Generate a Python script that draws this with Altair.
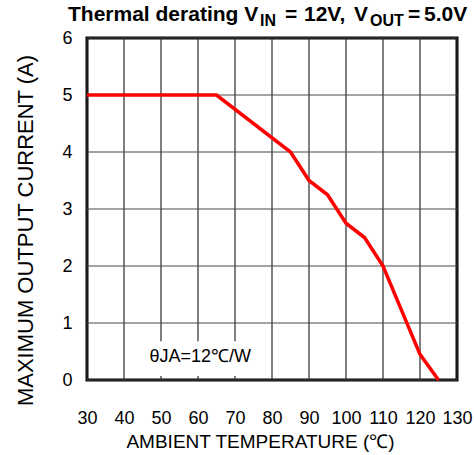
import altair as alt
import pandas as pd

# Derating curve: ambient temperature (°C) vs. maximum output current (A)
temps = [30, 65, 85, 90, 95, 100, 105, 110, 120, 125]
currents = [5.0, 5.0, 4.0, 3.5, 3.25, 2.75, 2.5, 2.0, 0.45, 0.0]

x_ticks = [30, 40, 50, 60, 70, 80, 90, 100, 110, 120, 130]
y_ticks = [0, 1, 2, 3, 4, 5, 6]
x_range = [30, 130]
y_range = [0, 6]

# Vertical grid segments (the ones behind the note are interrupted)
vgrid_x = [30, 40, 50, 50, 60, 60, 70, 70, 80, 90, 100, 110, 120, 130]
vgrid_lo = [0, 0, 0, 0.68, 0, 0.68, 0, 0.68, 0, 0, 0, 0, 0, 0]
vgrid_hi = [6, 6, 0.07, 6, 0.07, 6, 0.07, 6, 6, 6, 6, 6, 6, 6]

note_text = "θJA=12℃/W"
note_pos = (60.6, 0.40)

# Title pieces: (text, x offset, y offset, font size)
title_parts = [
    ("Thermal derating V", -19, -17, 21),
    ("IN", 173, -12, 16),
    ("=", 198, -17, 21),
    ("12V,", 217, -17, 21),
    ("V", 267, -17, 21),
    ("OUT", 283, -12, 16),
    ("=", 321, -17, 21),
    ("5.0V", 337, -17, 21),
]

FONT = "Liberation Sans"

x_scale = alt.Scale(domain=x_range, nice=False)
y_scale = alt.Scale(domain=y_range, nice=False)

x_enc = alt.X(
    "t:Q",
    scale=x_scale,
    axis=alt.Axis(
        values=x_ticks,
        format="d",
        title="AMBIENT TEMPERATURE (℃)",
        labelOverlap=False,
        labelPadding=29,
        titleX=173,
        titleY=67,
        titleAlign="center",
        titleBaseline="alphabetic",
        titleFontSize=19,
    ),
)
y_enc = alt.Y(
    "i:Q",
    scale=y_scale,
    axis=alt.Axis(
        values=y_ticks,
        format="d",
        title="MAXIMUM OUTPUT CURRENT (A)",
        labelOverlap=False,
        labelPadding=15,
        titleAngle=270,
        titleX=-62,
        titleY=192,
        titleAlign="center",
        titleBaseline="middle",
        titleFontSize=22,
    ),
)

note_df = pd.DataFrame({"t": [note_pos[0]], "i": [note_pos[1]], "label": [note_text]})
note = alt.Chart(note_df).mark_text(
    font=FONT, fontSize=18, color="black", align="center", baseline="middle"
).encode(x=x_enc, y=y_enc, text="label:N")

title_layers = []
for text, dx, dy, size in title_parts:
    title_layers.append(
        alt.Chart(pd.DataFrame({"label": [text]})).mark_text(
            font=FONT,
            fontSize=size,
            fontWeight="bold",
            color="black",
            align="left",
            baseline="alphabetic",
        ).encode(x=alt.value(dx), y=alt.value(dy), text="label:N")
    )

vgrid_df = pd.DataFrame({"t": vgrid_x, "i": vgrid_lo, "i2": vgrid_hi})
vgrid = alt.Chart(vgrid_df).mark_rule(color="#2a2a2a", strokeWidth=1.2).encode(
    x=x_enc, y=y_enc, y2="i2"
)
hgrid_df = pd.DataFrame({"i": y_ticks, "t": [x_range[0]] * len(y_ticks),
                         "t2": [x_range[1]] * len(y_ticks)})
hgrid = alt.Chart(hgrid_df).mark_rule(color="#4a4a4a", strokeWidth=1.2).encode(
    x=x_enc, x2="t2", y=y_enc
)

curve = pd.DataFrame({"t": temps, "i": currents})
line = alt.Chart(curve).mark_line(color="#ff0000", strokeWidth=3.5).encode(
    x=x_enc, y=y_enc
)

chart = (
    alt.layer(note, *title_layers, vgrid, hgrid, line)
    .properties(
        width=370,
        height=342,
        autosize=alt.AutoSizeParams(type="none"),
        padding={"left": 87, "top": 38, "right": 17, "bottom": 75},
        background="white",
    )
    .configure_view(stroke="black", strokeWidth=3)
    .configure_axis(
        grid=False,
        domain=False,
        ticks=False,
        labelFont=FONT,
        labelFontSize=18,
        labelColor="black",
        labelFlush=False,
        titleFont=FONT,
        titleFontWeight="normal",
        titleColor="black",
    )
)

chart.save("out.html", embed_options={"renderer": "svg", "actions": False})
